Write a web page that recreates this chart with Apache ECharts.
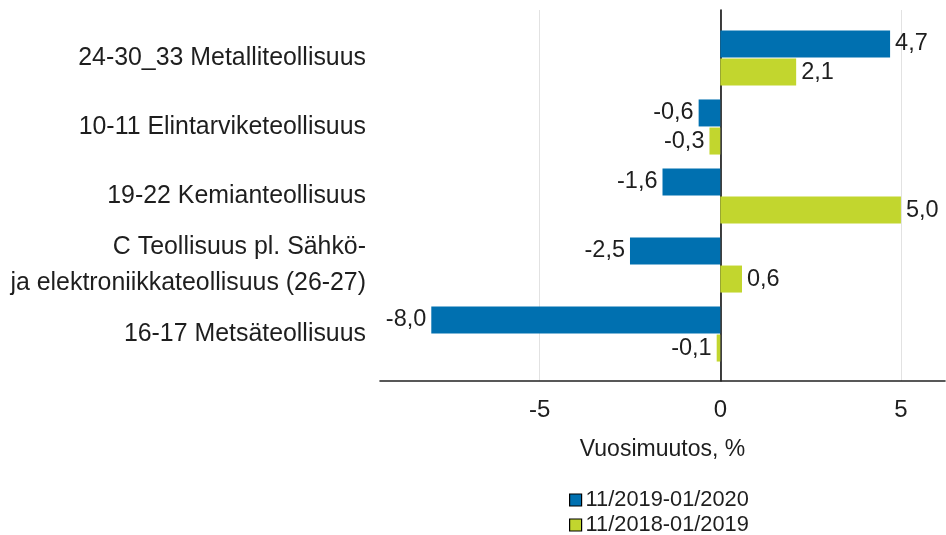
<!DOCTYPE html>
<html>
<head>
<meta charset="utf-8">
<script src="https://cdn.jsdelivr.net/npm/echarts@6/dist/echarts.min.js"></script>
<style>
html,body{margin:0;padding:0;background:#fff;}
#chart{width:946px;height:535px;}
</style>
</head>
<body>
<div id="chart"></div>
<script>
const categories = [
  '24-30_33 Metalliteollisuus',
  '10-11 Elintarviketeollisuus',
  '19-22 Kemianteollisuus',
  'C Teollisuus pl. Sähkö-\nja elektroniikkateollisuus (26-27)',
  '16-17 Metsäteollisuus'
];
const seriesNames = ['11/2019-01/2020', '11/2018-01/2019'];
const values2019 = [4.7, -0.6, -1.6, -2.5, -8.0];
const values2018 = [2.1, -0.3, 5.0, 0.6, -0.1];
const tickValues = [-5, 0, 5];

const FONT = 'Liberation Sans, Arial, sans-serif';
const TXT = '#1e1e1e';
const colors = ['#0070b0', '#c2d62e'];
const XMIN = -9.42, XMAX = 6.22;

function items(vals) {
  return vals.map(v => ({
    value: v,
    label: { position: v < 0 ? 'left' : 'right' }
  }));
}
const fmt = p => String(p.value.toFixed(1)).replace('.', ',');

function legendFor(i, top) {
  return {
    orient: 'vertical',
    left: 564, top: top,
    itemWidth: 12, itemHeight: 12, itemGap: 4,
    icon: 'rect',
    selectedMode: false,
    textStyle: { fontFamily: FONT, fontSize: 21.8, color: TXT, padding: [0, 0, 0, -1] },
    data: [{ name: seriesNames[i], itemStyle: { borderColor: '#000', borderWidth: 1.2 } }]
  };
}

const chart = echarts.init(document.getElementById('chart'), null, {renderer: 'canvas'});
chart.setOption({
  animation: false,
  backgroundColor: '#fff',
  textStyle: { fontFamily: FONT },
  grid: [
    { left: 380, right: 1, top: 23.5, bottom: 166.5, containLabel: false },
    { left: 380, right: 1, top: 10, bottom: 154, containLabel: false }
  ],
  legend: [legendFor(0, 484), legendFor(1, 509)],
  xAxis: [
    { gridIndex: 0, type: 'value', min: XMIN, max: XMAX, show: false },
    {
      gridIndex: 1, type: 'value', min: XMIN, max: XMAX,
      axisLine: { show: true, onZero: false, lineStyle: { color: '#222', width: 1.6 } },
      axisTick: { show: false, customValues: tickValues },
      axisLabel: { customValues: tickValues, fontSize: 24, color: TXT, fontFamily: FONT, margin: 17,
        formatter: v => String(v).replace('.', ',') },
      splitLine: { show: true, lineStyle: { color: '#e2e2e2', width: 1 } },
      name: 'Vuosimuutos, %', nameLocation: 'middle', nameGap: 57,
      nameTextStyle: { fontSize: 23, color: TXT, fontFamily: FONT }
    }
  ],
  yAxis: [
    {
      gridIndex: 0, type: 'category', data: categories, inverse: true,
      axisLine: { show: false }, axisTick: { show: false }, splitLine: { show: false },
      axisLabel: { fontSize: 24.9, color: TXT, fontFamily: FONT, margin: 14, lineHeight: 36, align: 'right' }
    },
    {
      gridIndex: 1, type: 'value', min: 0, max: 1,
      axisLine: { show: true, onZero: true, lineStyle: { color: '#111', width: 1.6 } },
      axisTick: { show: false }, axisLabel: { show: false }, splitLine: { show: false }
    }
  ],
  series: [
    {
      name: seriesNames[0], type: 'bar', xAxisIndex: 0, yAxisIndex: 0,
      data: items(values2019), barWidth: 27, barGap: '4%',
      itemStyle: { color: colors[0] },
      label: { show: true, fontSize: 23.5, color: TXT, fontFamily: FONT, distance: 5, formatter: fmt }
    },
    {
      name: seriesNames[1], type: 'bar', xAxisIndex: 0, yAxisIndex: 0,
      data: items(values2018), barWidth: 27, barGap: '4%',
      itemStyle: { color: colors[1] },
      label: { show: true, fontSize: 23.5, color: TXT, fontFamily: FONT, distance: 5, formatter: fmt }
    }
  ]
});
</script>
</body>
</html>
